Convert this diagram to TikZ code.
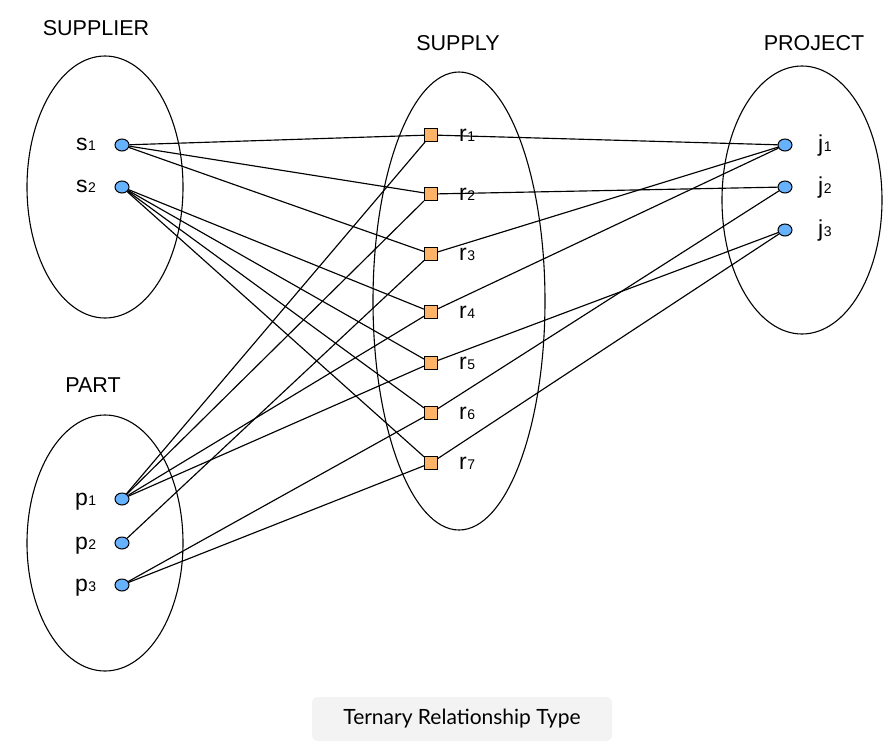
\documentclass[tikz,border=0pt]{standalone}
\usepackage{fontspec}
\setmainfont{Liberation Sans}
\newfontfamily\capfont{Lato}
\usetikzlibrary{shapes.geometric}
\definecolor{entblue}{HTML}{66B2FF}
\definecolor{relorange}{HTML}{FFB366}
\definecolor{capgray}{HTML}{F3F3F3}
\newcommand\ix[1]{{\fontsize{14}{14}\selectfont\kern0.5pt#1}}
\begin{document}
\begin{tikzpicture}[x=1pt,y=-1pt,
  setshape/.style={ellipse, draw, line width=1.1pt, inner sep=0pt},
  ent/.style={ellipse, draw, line width=1pt, fill=entblue, minimum width=14pt, minimum height=12pt, inner sep=0pt},
  rel/.style={rectangle, draw, line width=1pt, fill=relorange, minimum size=13pt, inner sep=0pt},
  lbl/.style={anchor=base west, inner sep=0pt, font=\fontsize{23}{23}\selectfont},
  ttl/.style={anchor=base, inner sep=0pt, font=\fontsize{21.5}{21.5}\selectfont},
  conn/.style={line width=1.15pt}]
\useasboundingbox (0,0) rectangle (895,753);
\fill[white] (0,0) rectangle (895,753);

% sets
\node[setshape, minimum width=156pt, minimum height=262pt] (supplierset) at (105,187) {};
\node[setshape, minimum width=156pt, minimum height=256pt] (partset) at (105,543) {};
\node[setshape, minimum width=172pt, minimum height=458pt] (supplyset) at (459,301) {};
\node[setshape, minimum width=160pt, minimum height=268pt] (projectset) at (802,200) {};

% titles
\node[ttl] (tsupplier) at (96,35) {SUPPLIER};
\node[ttl] (tsupply) at (458,50) {SUPPLY};
\node[ttl] (tproject) at (814,50) {PROJECT};
\node[ttl] (tpart) at (93,392) {PART};

% entity nodes
\node[ent] (s1) at (122,145) {};
\node[ent] (s2) at (122,187) {};
\node[ent] (p1) at (122,499) {};
\node[ent] (p2) at (122,543) {};
\node[ent] (p3) at (122,585) {};
\node[ent] (j1) at (785,145) {};
\node[ent] (j2) at (785,187) {};
\node[ent] (j3) at (785,230) {};

% relationship nodes
\node[rel] (r1) at (431,135) {};
\node[rel] (r2) at (431,194) {};
\node[rel] (r3) at (431,254) {};
\node[rel] (r4) at (431,312) {};
\node[rel] (r5) at (431,363) {};
\node[rel] (r6) at (431,413) {};
\node[rel] (r7) at (431,463) {};

% labels
\node[lbl] (s1l) at (76,150) {s\ix{1}};
\node[lbl] (s2l) at (76,192) {s\ix{2}};
\node[lbl] (p1l) at (75,505) {p\ix{1}};
\node[lbl] (p2l) at (75,549) {p\ix{2}};
\node[lbl] (p3l) at (75,591) {p\ix{3}};
\node[lbl] (r1l) at (459,141) {r\ix{1}};
\node[lbl] (r2l) at (459,200) {r\ix{2}};
\node[lbl] (r3l) at (459,260) {r\ix{3}};
\node[lbl] (r4l) at (459,318) {r\ix{4}};
\node[lbl] (r5l) at (459,369) {r\ix{5}};
\node[lbl] (r6l) at (459,419) {r\ix{6}};
\node[lbl] (r7l) at (459,469) {r\ix{7}};
\node[lbl] (j1l) at (818,151) {j\ix{1}};
\node[lbl] (j2l) at (818,193) {j\ix{2}};
\node[lbl] (j3l) at (818,236) {j\ix{3}};

% connectors
\foreach \a/\b in {s1/r1, s1/r2, s1/r3, s2/r4, s2/r5, s2/r6, s2/r7,
                   p1/r1, p1/r2, p1/r4, p1/r5, p2/r3, p3/r6, p3/r7,
                   r1/j1, r2/j2, r3/j1, r4/j1, r5/j3, r6/j2, r7/j3}
  \draw[conn] (\a) -- (\b);

% caption
\node[fill=capgray, rounded corners=6pt, minimum width=300pt, minimum height=44pt,
      font=\capfont\fontsize{21}{21}\selectfont] (caption) at (462,719) {Ternary Relationship Type};
\end{tikzpicture}
\end{document}
